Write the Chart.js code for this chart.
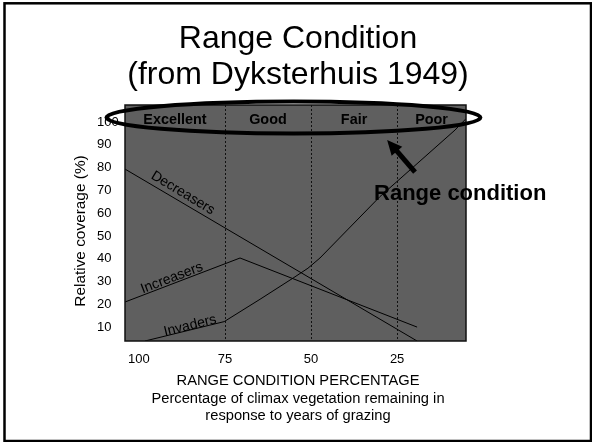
<!DOCTYPE html>
<html>
<head>
<meta charset="utf-8">
<script src="https://cdn.jsdelivr.net/npm/chart.js@4.4.0/dist/chart.umd.min.js"></script>
<style>
  html, body { margin: 0; padding: 0; background: #fff; }
  canvas { display: block; }
</style>
</head>
<body>
<canvas id="rangeChart" width="592" height="442"></canvas>
<script>
const FONT = '"Liberation Sans", Arial, sans-serif'

// x = percentage of climax vegetation remaining, y = relative coverage (%)
const decreasersX = [104, 19.2]
const decreasersY = [79.4, 4]
const increasersX = [104, 70.6, 19.2]
const increasersY = [21.1, 40.4, 10.1]
const invadersX = [98.2, 75.2, 64.8, 55.2, 50.9, 47.4, 30, 8.2, 5]
const invadersY = [4, 12.5, 22.3, 31.6, 35.9, 40.4, 67.3, 96.5, 101.5]

const xTicks = [100, 75, 50, 25]
const yTicks = [10, 20, 30, 40, 50, 60, 70, 80, 90, 100]
const conditionClasses = ['Excellent', 'Good', 'Fair', 'Poor']
const classBreaks = [75, 50, 25]

// annotation anchors, in data units
const lineNotes = [
  { text: 'Decreasers', x: 87.2, y: 68.9, angle: 31 },
  { text: 'Increasers', x: 90.4, y: 31.6, angle: -21 },
  { text: 'Invaders', x: 85.1, y: 10.7, angle: -14 }
]
const classLabelY = 101
const ellipseAt = { x: 55.1, y: 102, rx: 187, ry: 16 }
const arrowFrom = { x: 19.8, y: 78.1 }
const arrowTo = { x: 27.9, y: 92.2 }
const calloutAt = { x: 31.7, y: 65.8 }

const toPoints = (xs, ys) => xs.map((x, i) => ({ x, y: ys[i] }))

const lineStyle = {
  borderColor: '#000',
  borderWidth: 1,
  pointRadius: 0,
  tension: 0,
  fill: false
}

const font = (size, bold) => `${bold ? 'bold ' : ''}${size}px ${FONT}`

const rangeDecor = {
  id: 'rangeDecor',
  beforeDatasetsDraw(chart) {
    const { ctx, chartArea: a, scales: { x } } = chart
    ctx.save()
    ctx.fillStyle = '#5f5f5f'
    ctx.fillRect(a.left, a.top, a.right - a.left, a.bottom - a.top)
    ctx.strokeStyle = '#111'
    ctx.lineWidth = 1
    ctx.setLineDash([2, 2])
    classBreaks.forEach(v => {
      const px = Math.round(x.getPixelForValue(v)) + 0.5
      ctx.beginPath()
      ctx.moveTo(px, a.top)
      ctx.lineTo(px, a.bottom)
      ctx.stroke()
    })
    ctx.restore()
  },
  afterDraw(chart) {
    const { ctx, chartArea: a, scales: { x, y } } = chart
    ctx.save()

    // plot frame
    ctx.strokeStyle = '#111'
    ctx.lineWidth = 1.5
    ctx.strokeRect(a.left, a.top, a.right - a.left, a.bottom - a.top)

    // condition classes across the top
    const edges = [x.max, ...classBreaks, x.min]
    ctx.fillStyle = '#000'
    ctx.font = font(14.4, true)
    ctx.textAlign = 'center'
    ctx.textBaseline = 'middle'
    conditionClasses.forEach((name, i) => {
      const cx = (x.getPixelForValue(edges[i]) + x.getPixelForValue(edges[i + 1])) / 2
      ctx.fillText(name, cx, y.getPixelForValue(classLabelY))
    })

    // labels along the lines
    ctx.font = font(14, false)
    lineNotes.forEach(n => {
      ctx.save()
      ctx.translate(x.getPixelForValue(n.x), y.getPixelForValue(n.y))
      ctx.rotate(n.angle * Math.PI / 180)
      ctx.fillText(n.text, 0, 0)
      ctx.restore()
    })

    // ellipse round the class names
    ctx.lineWidth = 4
    ctx.strokeStyle = '#000'
    ctx.beginPath()
    ctx.ellipse(x.getPixelForValue(ellipseAt.x), y.getPixelForValue(ellipseAt.y),
      ellipseAt.rx, ellipseAt.ry, 0, 0, Math.PI * 2)
    ctx.stroke()

    // arrow
    const x0 = x.getPixelForValue(arrowFrom.x)
    const y0 = y.getPixelForValue(arrowFrom.y)
    const x1 = x.getPixelForValue(arrowTo.x)
    const y1 = y.getPixelForValue(arrowTo.y)
    const ang = Math.atan2(y1 - y0, x1 - x0)
    const head = 15
    ctx.lineWidth = 5
    ctx.beginPath()
    ctx.moveTo(x0, y0)
    ctx.lineTo(x1 - Math.cos(ang) * (head - 2), y1 - Math.sin(ang) * (head - 2))
    ctx.stroke()
    ctx.beginPath()
    ctx.moveTo(x1, y1)
    ctx.lineTo(x1 - head * Math.cos(ang) + 7 * Math.sin(ang), y1 - head * Math.sin(ang) - 7 * Math.cos(ang))
    ctx.lineTo(x1 - head * Math.cos(ang) - 7 * Math.sin(ang), y1 - head * Math.sin(ang) + 7 * Math.cos(ang))
    ctx.closePath()
    ctx.fill()

    ctx.font = font(22, true)
    ctx.textAlign = 'left'
    ctx.textBaseline = 'alphabetic'
    ctx.fillText('Range condition', x.getPixelForValue(calloutAt.x), y.getPixelForValue(calloutAt.y))

    // slide title
    ctx.textAlign = 'center'
    ctx.font = font(32, false)
    ctx.fillText('Range Condition', 298, 48)
    ctx.fillText('(from Dyksterhuis 1949)', 298, 84)

    // axis titles
    ctx.font = font(14.7, false)
    ctx.fillText('RANGE CONDITION PERCENTAGE', 298, 385)
    ctx.fillText('Percentage of climax vegetation remaining in', 298, 403)
    ctx.fillText('response to years of grazing', 298, 420)

    ctx.save()
    ctx.translate(81, 231)
    ctx.rotate(-Math.PI / 2)
    ctx.textBaseline = 'middle'
    ctx.font = font(15.4, false)
    ctx.fillText('Relative coverage (%)', 0, 0)
    ctx.restore()

    // slide border
    ctx.lineWidth = 2.5
    ctx.strokeRect(4.5, 3.3, 586.5, 437.7)
    ctx.restore()
  }
}

new Chart(document.getElementById('rangeChart'), {
  type: 'line',
  data: {
    datasets: [
      { label: 'Decreasers', data: toPoints(decreasersX, decreasersY), ...lineStyle },
      { label: 'Increasers', data: toPoints(increasersX, increasersY), ...lineStyle },
      { label: 'Invaders', data: toPoints(invadersX, invadersY), ...lineStyle }
    ]
  },
  options: {
    responsive: false,
    animation: false,
    layout: { padding: { left: 97, right: 126, top: 105, bottom: 71 } },
    plugins: {
      legend: { display: false },
      tooltip: { enabled: false },
      title: { display: false }
    },
    scales: {
      x: {
        type: 'linear',
        reverse: true,
        min: 5,
        max: 104,
        afterBuildTicks: s => { s.ticks = xTicks.map(v => ({ value: v })) },
        afterFit: s => { s.height = 30 },
        grid: { display: false },
        border: { display: false },
        ticks: {
          color: '#000',
          font: { family: FONT, size: 13 },
          padding: 3,
          maxRotation: 0,
          autoSkip: false
        }
      },
      y: {
        type: 'linear',
        min: 4,
        max: 107.5,
        afterBuildTicks: s => { s.ticks = yTicks.map(v => ({ value: v })) },
        afterFit: s => { s.width = 28 },
        grid: { display: false },
        border: { display: false },
        ticks: {
          color: '#000',
          font: { family: FONT, size: 13 },
          crossAlign: 'far',
          padding: 0,
          autoSkip: false
        }
      }
    }
  },
  plugins: [rangeDecor]
})
</script>
</body>
</html>
